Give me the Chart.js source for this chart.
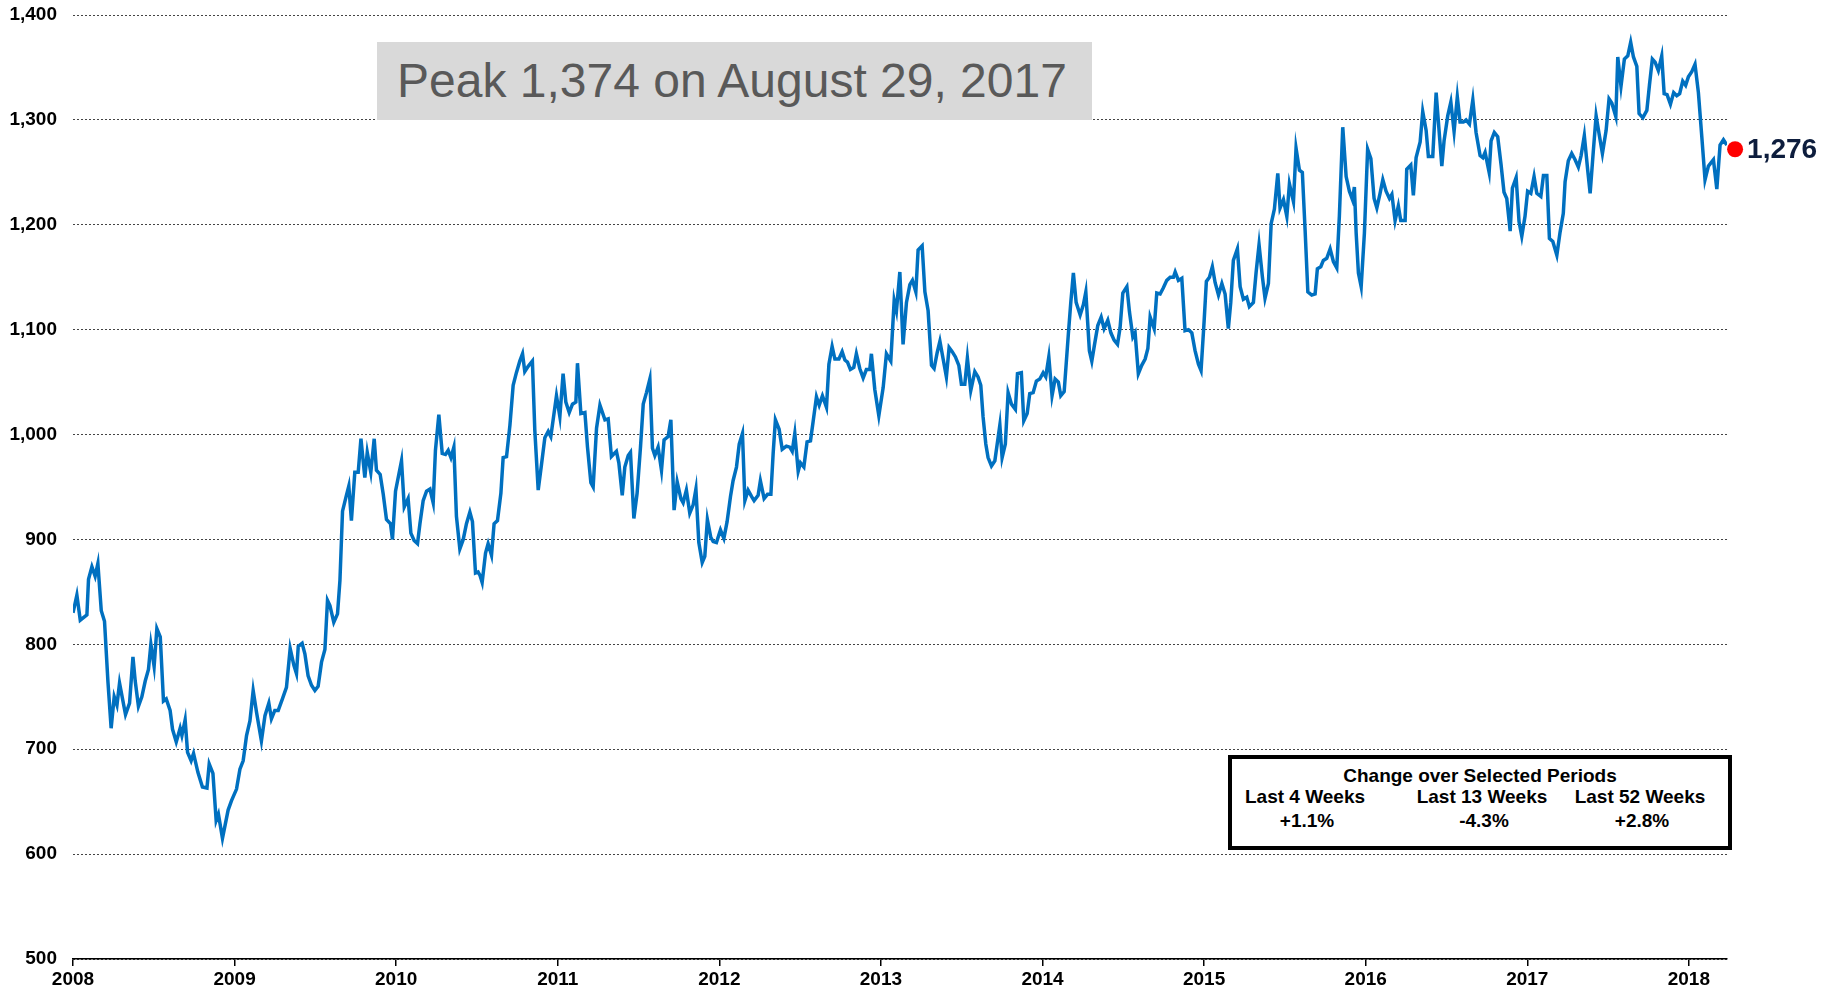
<!DOCTYPE html>
<html>
<head>
<meta charset="utf-8">
<script src="https://cdn.jsdelivr.net/npm/chart.js@4.4.1/dist/chart.umd.min.js"></script>
<style>
  body { margin: 0; background: #fff; font-family: "Liberation Sans", Arial, sans-serif; }
  #wrap { position: relative; width: 1841px; height: 993px; }
  #peak {
    position: absolute; left: 377px; top: 42px; width: 715px; height: 78px;
    background: #d9d9d9; color: #595959; font-size: 48px; line-height: 78px;
    padding-left: 20px; box-sizing: border-box; white-space: nowrap;
  }
  #changes {
    position: absolute; left: 1228px; top: 755px; width: 504px; height: 95px;
    border: 4px solid #000; box-sizing: border-box; background: #fff;
    font-weight: bold; font-size: 19px; color: #000;
  }
  #changes span { position: absolute; white-space: nowrap; transform: translate(-50%, -50%); }
</style>
</head>
<body>
<div id="wrap">
  <canvas id="lineChart" width="1841" height="993"></canvas>
  <div id="peak">Peak 1,374 on August 29, 2017</div>
  <div id="changes"></div>
</div>
<script>
// weekly index readings (x = decimal year)
const dates = [
  2008.000, 2008.024, 2008.045, 2008.086, 2008.096, 2008.117, 2008.137, 2008.154, 2008.175, 2008.195,
  2008.216, 2008.236, 2008.255, 2008.272, 2008.288, 2008.325, 2008.350, 2008.371, 2008.385, 2008.405,
  2008.426, 2008.447, 2008.467, 2008.482, 2008.502, 2008.519, 2008.540, 2008.560, 2008.577, 2008.601,
  2008.616, 2008.639, 2008.663, 2008.674, 2008.694, 2008.709, 2008.731, 2008.746, 2008.773, 2008.801,
  2008.829, 2008.843, 2008.866, 2008.886, 2008.900, 2008.925, 2008.960, 2008.981,
  2009.012, 2009.033, 2009.053, 2009.074, 2009.095, 2009.115, 2009.136, 2009.166, 2009.188, 2009.212,
  2009.228, 2009.249, 2009.270, 2009.296, 2009.321, 2009.344, 2009.367, 2009.383, 2009.394, 2009.418,
  2009.435, 2009.455, 2009.476, 2009.497, 2009.517, 2009.538, 2009.559, 2009.575, 2009.590, 2009.614,
  2009.637, 2009.652, 2009.668, 2009.692, 2009.707, 2009.723, 2009.744, 2009.765, 2009.782, 2009.806,
  2009.821, 2009.843, 2009.864, 2009.878, 2009.901, 2009.920, 2009.940, 2009.965, 2009.977, 2009.996,
  2010.033, 2010.050, 2010.074, 2010.091, 2010.111, 2010.132, 2010.147, 2010.167, 2010.188, 2010.209,
  2010.229, 2010.243, 2010.264, 2010.285, 2010.305, 2010.322, 2010.339, 2010.357, 2010.373, 2010.394,
  2010.415, 2010.435, 2010.456, 2010.472, 2010.491, 2010.507, 2010.518, 2010.532, 2010.553, 2010.569,
  2010.590, 2010.606, 2010.627, 2010.648, 2010.662, 2010.683, 2010.704, 2010.724, 2010.744, 2010.765,
  2010.782, 2010.796, 2010.817, 2010.843, 2010.858, 2010.879, 2010.899, 2010.920, 2010.941, 2010.957, 2010.992,
  2011.013, 2011.033, 2011.050, 2011.071, 2011.091, 2011.112, 2011.122, 2011.143, 2011.168, 2011.184,
  2011.205, 2011.219, 2011.240, 2011.261, 2011.292, 2011.312, 2011.332, 2011.363, 2011.378, 2011.399,
  2011.415, 2011.436, 2011.450, 2011.471, 2011.491, 2011.512, 2011.529, 2011.549, 2011.570, 2011.586,
  2011.601, 2011.621, 2011.642, 2011.658, 2011.683, 2011.700, 2011.720, 2011.739, 2011.762, 2011.776,
  2011.796, 2011.817, 2011.838, 2011.855, 2011.873, 2011.894, 2011.910, 2011.926, 2011.947, 2011.962, 2011.982,
  2012.007, 2012.028, 2012.048, 2012.069, 2012.085, 2012.106, 2012.123, 2012.143, 2012.158, 2012.178,
  2012.199, 2012.215, 2012.240, 2012.254, 2012.277, 2012.298, 2012.319, 2012.333, 2012.347, 2012.370,
  2012.389, 2012.415, 2012.436, 2012.451, 2012.467, 2012.488, 2012.502, 2012.523, 2012.543, 2012.564,
  2012.580, 2012.601, 2012.618, 2012.638, 2012.663, 2012.678, 2012.698, 2012.715, 2012.740, 2012.760,
  2012.777, 2012.793, 2012.811, 2012.832, 2012.848, 2012.869, 2012.890, 2012.910, 2012.931, 2012.941, 2012.962, 2012.987,
  2013.014, 2013.034, 2013.061, 2013.082, 2013.096, 2013.117, 2013.137, 2013.158, 2013.179, 2013.195,
  2013.216, 2013.230, 2013.255, 2013.272, 2013.292, 2013.313, 2013.329, 2013.348, 2013.365, 2013.385,
  2013.405, 2013.422, 2013.441, 2013.461, 2013.482, 2013.498, 2013.519, 2013.535, 2013.556, 2013.581,
  2013.601, 2013.618, 2013.632, 2013.649, 2013.663, 2013.684, 2013.705, 2013.736, 2013.750, 2013.770,
  2013.787, 2013.808, 2013.832, 2013.845, 2013.869, 2013.884, 2013.905, 2013.921, 2013.942, 2013.962, 2013.983,
  2014.004, 2014.020, 2014.039, 2014.059, 2014.078, 2014.098, 2014.113, 2014.134, 2014.160, 2014.175,
  2014.191, 2014.208, 2014.233, 2014.253, 2014.268, 2014.290, 2014.305, 2014.321, 2014.342, 2014.363,
  2014.381, 2014.404, 2014.423, 2014.443, 2014.464, 2014.480, 2014.497, 2014.522, 2014.538, 2014.559,
  2014.573, 2014.593, 2014.614, 2014.635, 2014.652, 2014.666, 2014.691, 2014.707, 2014.728, 2014.748,
  2014.769, 2014.790, 2014.810, 2014.821, 2014.841, 2014.862, 2014.882, 2014.903, 2014.924, 2014.944, 2014.965, 2014.981,
  2015.000, 2015.014, 2015.033, 2015.051, 2015.068, 2015.089, 2015.110, 2015.130, 2015.150, 2015.165,
  2015.181, 2015.206, 2015.223, 2015.243, 2015.264, 2015.280, 2015.305, 2015.322, 2015.340, 2015.361,
  2015.377, 2015.398, 2015.415, 2015.435, 2015.456, 2015.470, 2015.491, 2015.512, 2015.528, 2015.553,
  2015.569, 2015.590, 2015.608, 2015.625, 2015.642, 2015.666, 2015.687, 2015.701, 2015.722, 2015.738,
  2015.759, 2015.780, 2015.800, 2015.821, 2015.837, 2015.858, 2015.879, 2015.899, 2015.918, 2015.930, 2015.941, 2015.955, 2015.972, 2015.992,
  2016.012, 2016.032, 2016.052, 2016.069, 2016.089, 2016.106, 2016.126, 2016.147, 2016.162, 2016.182,
  2016.202, 2016.217, 2016.244, 2016.254, 2016.279, 2016.295, 2016.312, 2016.337, 2016.353, 2016.374,
  2016.388, 2016.415, 2016.436, 2016.454, 2016.471, 2016.485, 2016.508, 2016.527, 2016.547, 2016.567,
  2016.584, 2016.605, 2016.621, 2016.642, 2016.663, 2016.683, 2016.708, 2016.725, 2016.739, 2016.764,
  2016.776, 2016.796, 2016.817, 2016.838, 2016.856, 2016.873, 2016.894, 2016.908, 2016.931, 2016.949, 2016.966, 2016.986,
  2017.002, 2017.022, 2017.042, 2017.059, 2017.084, 2017.100, 2017.121, 2017.137, 2017.158, 2017.183,
  2017.203, 2017.223, 2017.234, 2017.254, 2017.275, 2017.296, 2017.316, 2017.333, 2017.353, 2017.374,
  2017.389, 2017.409, 2017.426, 2017.444, 2017.465, 2017.488, 2017.506, 2017.523, 2017.548, 2017.560,
  2017.580, 2017.601, 2017.622, 2017.640, 2017.657, 2017.678, 2017.692, 2017.715, 2017.740, 2017.756,
  2017.774, 2017.791, 2017.811, 2017.832, 2017.847, 2017.865, 2017.886, 2017.906, 2017.925, 2017.943, 2017.962, 2017.980, 2017.997,
  2018.018, 2018.038, 2018.059, 2018.080, 2018.100, 2018.121, 2018.152, 2018.173, 2018.193, 2018.214, 2018.235
]
const values = [
  830, 847, 823, 828, 862, 874, 865, 877, 832, 822,
  765, 720, 750, 742, 763, 733, 744, 788, 765, 741,
  750, 765, 776, 800, 779, 815, 807, 746, 748, 737,
  719, 707, 720, 713, 728, 697, 689, 696, 678, 664,
  663, 686, 677, 632, 638, 615, 642, 651,
  662, 681, 689, 713, 727, 756, 735, 708, 732, 744,
  729, 737, 737, 748, 759, 796, 780, 772, 798, 801,
  791, 770, 761, 756, 760, 783, 795, 842, 837, 821,
  829, 861, 927, 942, 951, 918, 964, 964, 996, 959,
  983, 964, 996, 966, 962, 943, 919, 915, 900, 946,
  975, 931, 939, 906, 899, 896, 915, 937, 946, 948,
  935, 985, 1019, 982, 981, 985, 978, 988, 922, 891,
  900, 915, 926, 917, 868, 869, 866, 859, 887, 896,
  885, 915, 918, 944, 978, 979, 1009, 1047, 1059, 1070,
  1077, 1060, 1065, 1070, 1004, 947, 971, 997, 1003, 998, 1037,
  1017, 1058, 1031, 1021, 1029, 1031, 1068, 1020, 1021, 988,
  954, 950, 1006, 1028, 1014, 1015, 979, 984, 973, 942,
  969, 980, 983, 920, 944, 988, 1029, 1040, 1053, 987,
  980, 988, 966, 995, 998, 1014, 928, 955, 939, 935,
  947, 925, 933, 948, 897, 878, 884, 919, 902, 898, 897,
  909, 901, 917, 941, 956, 969, 991, 1001, 937, 947,
  941, 937, 942, 956, 939, 943, 943, 982, 1014, 1005,
  986, 989, 988, 984, 1001, 965, 973, 969, 993, 994,
  1012, 1036, 1028, 1037, 1026, 1067, 1084, 1072, 1072, 1079,
  1071, 1069, 1062, 1064, 1077, 1063, 1054, 1062, 1062, 1077, 1043, 1018,
  1045, 1077, 1070, 1128, 1118, 1155, 1086, 1126, 1143, 1147,
  1136, 1176, 1180, 1136, 1118, 1066, 1063, 1078, 1089, 1072,
  1055, 1083, 1079, 1074, 1066, 1048, 1048, 1073, 1042, 1060,
  1055, 1047, 1017, 991, 978, 970, 975, 1009, 978, 991,
  1040, 1029, 1024, 1058, 1059, 1013, 1020, 1039, 1040, 1051, 1053,
  1059, 1055, 1074, 1037, 1053, 1050, 1037, 1041, 1096, 1126,
  1154, 1126, 1114, 1124, 1136, 1080, 1070, 1085, 1104, 1112,
  1101, 1109, 1097, 1090, 1086, 1102, 1135, 1141, 1117, 1093,
  1097, 1058, 1066, 1072, 1082, 1112, 1101, 1135, 1134, 1140,
  1147, 1150, 1150, 1155, 1147, 1149, 1099, 1100, 1097, 1080, 1067, 1061,
  1108, 1146, 1150, 1160, 1145, 1133, 1144, 1134, 1101, 1126,
  1166, 1177, 1141, 1129, 1131, 1122, 1126, 1155, 1181, 1150,
  1130, 1144, 1201, 1215, 1249, 1216, 1224, 1208, 1239, 1222,
  1273, 1252, 1250, 1195, 1136, 1133, 1134, 1158, 1160, 1166,
  1168, 1177, 1165, 1159, 1208, 1293, 1246, 1232, 1224, 1236, 1192, 1154, 1141, 1192,
  1272, 1263, 1225, 1216, 1230, 1243, 1232, 1225, 1229, 1204,
  1218, 1204, 1204, 1253, 1257, 1228, 1264, 1279, 1308, 1290,
  1265, 1265, 1326, 1290, 1256, 1280, 1304, 1317, 1289, 1322,
  1298, 1298, 1300, 1296, 1319, 1288, 1266, 1264, 1269, 1250,
  1280, 1288, 1284, 1257, 1231, 1225, 1194, 1235, 1245, 1203, 1189, 1208,
  1232, 1230, 1246, 1230, 1227, 1247, 1247, 1187, 1184, 1171,
  1193, 1211, 1241, 1261, 1268, 1262, 1255, 1266, 1285, 1252,
  1230, 1271, 1304, 1287, 1268, 1290, 1320, 1316, 1303, 1360,
  1332, 1358, 1361, 1374, 1360, 1351, 1306, 1302, 1309, 1333,
  1358, 1355, 1347, 1361, 1325, 1324, 1315, 1326, 1323, 1325, 1337, 1333, 1341,
  1346, 1353, 1326, 1284, 1243, 1256, 1262, 1234, 1276, 1281, 1276
]

// marker drawn just right of the plot, where the picture shows it
const markerX = 2018.286
const markerY = 1272
const latestLabel = '1,276'

const yearTicks = [2008, 2009, 2010, 2011, 2012, 2013, 2014, 2015, 2016, 2017, 2018]
const xMin = 2008
const xMax = 2018.236
const yMin = 500
const yMax = 1400
const yStep = 100

const periodNames = ['Last 4 Weeks', 'Last 13 Weeks', 'Last 52 Weeks']
const periodChanges = ['+1.1%', '-4.3%', '+2.8%']

// change box
const box = document.getElementById('changes')
const addText = (txt, left, top) => {
  const s = document.createElement('span')
  s.textContent = txt
  s.style.left = left + 'px'
  s.style.top = top + 'px'
  box.appendChild(s)
}
addText('Change over Selected Periods', 248, 17)
const colLeft = [73, 250, 408]
periodNames.forEach((name, i) => addText(name, colLeft[i], 38))
periodChanges.forEach((chg, i) => addText(chg, colLeft[i] + 2, 62))

const points = dates.map((d, i) => ({x: d, y: values[i]}))

// red marker + label for the latest reading
const latestPlugin = {
  id: 'latest',
  afterDatasetsDraw(chart) {
    const px = chart.scales.x.getPixelForValue(markerX)
    const py = chart.scales.y.getPixelForValue(markerY)
    const ctx = chart.ctx
    ctx.save()
    ctx.fillStyle = '#ff0000'
    ctx.beginPath()
    ctx.arc(px, py, 8, 0, Math.PI * 2)
    ctx.fill()
    ctx.font = 'bold 28px "Liberation Sans", Arial, sans-serif'
    ctx.fillStyle = '#0d1d3d'
    ctx.textBaseline = 'middle'
    ctx.fillText(latestLabel, px + 12, py + 1)
    ctx.restore()
  }
}

Chart.defaults.font.family = '"Liberation Sans", Arial, sans-serif'
Chart.defaults.color = '#000'

const ctxL = document.getElementById('lineChart').getContext('2d')
const myLineChart = new Chart(ctxL, {
  type: 'line',
  data: {
    datasets: [{
      data: points,
      borderColor: '#0070c0',
      borderWidth: 3.5,
      pointRadius: 0,
      tension: 0,
      fill: false
    }]
  },
  options: {
    responsive: false,
    animation: false,
    layout: { padding: { top: 15, right: 114, left: 0, bottom: 0 } },
    plugins: { legend: { display: false }, tooltip: { enabled: false } },
    scales: {
      x: {
        type: 'linear',
        min: xMin,
        max: xMax,
        afterBuildTicks: axis => { axis.ticks = yearTicks.map(v => ({value: v})) },
        afterFit: axis => { axis.height = 34 },
        ticks: {
          callback: v => String(v),
          font: { size: 19, weight: 'bold' },
          padding: 2,
          maxRotation: 0
        },
        grid: { drawOnChartArea: false, drawTicks: true, tickLength: 7, color: '#000', lineWidth: 1.5 },
        border: { display: true, color: '#000', width: 1.5 }
      },
      y: {
        min: yMin,
        max: yMax,
        afterFit: axis => {
          axis.width = 73
          axis.paddingTop = 0
          axis.paddingBottom = 0
        },
        ticks: {
          stepSize: yStep,
          callback: v => v.toLocaleString('en-US'),
          font: { size: 19, weight: 'bold' },
          padding: 16
        },
        grid: { drawTicks: false, color: '#444', lineWidth: 1 },
        border: { display: false, dash: [2, 2] }
      }
    }
  },
  plugins: [latestPlugin]
})
</script>
</body>
</html>
